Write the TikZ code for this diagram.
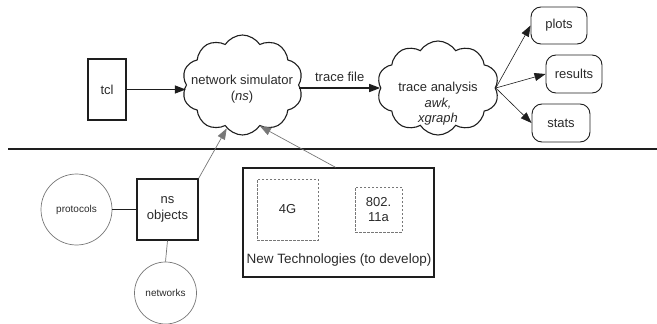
\documentclass[tikz,border=0pt]{standalone}
\usepackage{fontspec}
\setmainfont{Liberation Sans}
\usetikzlibrary{shapes.symbols,arrows.meta}
\definecolor{ink}{HTML}{1E1E1E}
\definecolor{txt}{HTML}{2A2A2A}
\definecolor{soft}{HTML}{777777}
\begin{document}
\begin{tikzpicture}[x=1pt,y=-1pt,
  every node/.style={font=\fontsize{13}{15.5}\selectfont, text=txt, inner sep=0pt, align=center},
  box/.style={draw=ink, line width=1.4pt, rectangle},
  rbox/.style={draw=ink, line width=0.9pt, rectangle, rounded corners=10pt},
  dbox/.style={draw=soft, line width=0.9pt, dashed, dash pattern=on 2.5pt off 1.5pt, rectangle},
  blob/.style={draw=ink, line width=1.1pt, cloud, cloud puffs=10, cloud puff arc=115, cloud ignores aspect, shape border rotate=18},
  circ/.style={draw=soft, line width=0.7pt, circle, font=\fontsize{10}{12}\selectfont},
  tip/.style={-{Triangle[length=11pt,width=8pt]}},
  mainline/.style={draw=ink, line width=1.4pt},
  thinline/.style={draw=ink, line width=0.6pt},
  greyline/.style={draw=soft, line width=0.7pt}]
\useasboundingbox (0,0) rectangle (657,324);

% top row
\node[box, minimum width=38pt, minimum height=61pt] (tcl) at (107,89.5) {tcl};
\node[blob, minimum width=121pt, minimum height=100pt] (ns) at (242.5,85) {};
\node (nstext) at (242,89) {network simulator\\(\textit{ns})};
\node[blob, minimum width=122pt, minimum height=94pt] (ta) at (438,88) {};
\node (tatext) at (438,104) {trace analysis\\\textit{awk,}\\\textit{xgraph}};
\node[rbox, minimum width=56pt, minimum height=37pt] (plots) at (559,25.5) {plots};
\node[rbox, minimum width=56pt, minimum height=38pt] (results) at (574,74) {results};
\node[rbox, minimum width=58pt, minimum height=38pt] (stats) at (561,123) {stats};

\draw[mainline, tip] (tcl.east) -- (tcl.east -| ns.west);
\draw[mainline, tip] (ta.west -| ns.east) -- node[above=6pt] (tf) {trace file} (ta.west);
\draw[thinline, tip] (ta.east) -- (plots.west);
\draw[thinline, tip] (ta.east) -- (results.west);
\draw[thinline, tip] (ta.east) -- (stats.west);

% separator
\draw[draw=ink, line width=1.4pt] (8,149) -- (657,149);

% bottom part
\node[box, minimum width=61pt, minimum height=61pt] (nsobj) at (167.5,209.5) {ns\\objects};
\node[circ, minimum size=71pt] (prot) at (76.5,209.5) {protocols};
\node[circ, minimum size=62pt] (netw) at (165.5,293) {networks};
\node[box, minimum width=191pt, minimum height=109pt] (newtech) at (338.5,222.5) {};
\node[font=\fontsize{13.5}{16}\selectfont] (nttext) at (339,260) {New Technologies (to develop)};
\node[dbox, minimum width=61pt, minimum height=61pt] (g4) at (287.5,209.5) {4G};
\node[dbox, minimum width=47pt, minimum height=45pt] (wifi) at (378.5,209.5) {802.\\11a};

\draw[mainline] (prot.east) -- (nsobj.west);
\draw[greyline] (nsobj.south) -- (netw.north);
\draw[greyline, tip] (nsobj.north east) -- (ns.-110);
\draw[greyline, tip] ([xshift=-3pt]newtech.north) -- (ns.-67);
\end{tikzpicture}
\end{document}
